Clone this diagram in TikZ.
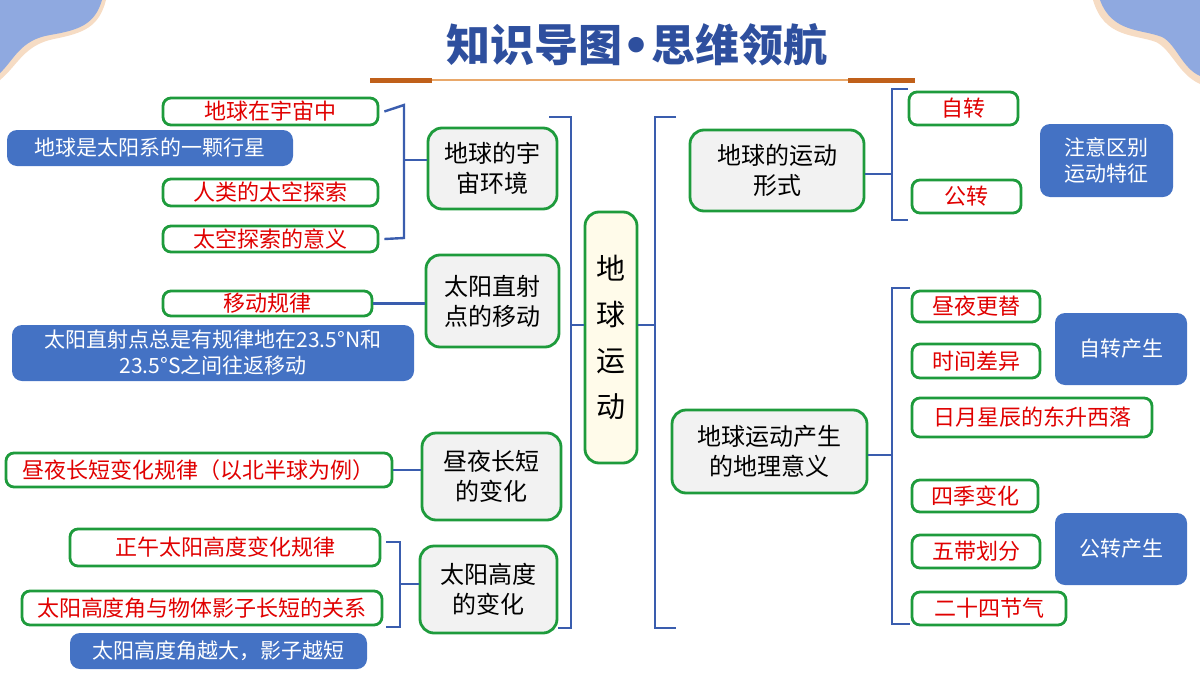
\documentclass[tikz,border=0pt]{standalone}
\usepackage{fontspec}
\setmainfont{Noto Sans CJK SC}
\newfontfamily\dv{DejaVu Sans}
\usetikzlibrary{calc}
\definecolor{gr}{HTML}{1E9B3C}
\definecolor{rd}{HTML}{E00000}
\definecolor{bf}{HTML}{4472C4}
\definecolor{bln}{HTML}{3A5DAE}
\definecolor{gy}{HTML}{F2F2F2}
\definecolor{yl}{HTML}{FFFBEA}
\definecolor{tt}{HTML}{2E4F9E}
\definecolor{cb}{HTML}{8FA9E0}
\definecolor{pc}{HTML}{F6DCC4}
\definecolor{orl}{HTML}{E9A86A}
\definecolor{ord}{HTML}{C0601A}
\newcommand\bx[7]{\node[#2, minimum width={(#5-#3)*0.5pt}, minimum height={(#6-#4)*0.5pt}] (#1) at ({(#3+#5)/2},{(#4+#6)/2}) {#7};}
\begin{document}
\begin{tikzpicture}[x=0.5pt,y=-0.5pt,
 gbox/.style={draw=gr, line width=1.4pt, rounded corners=4pt, inner sep=0pt, text=rd, font=\fontsize{11}{12}\selectfont, fill=white},
 bbox/.style={fill=bf, rounded corners=5pt, inner sep=0pt, text=white, font=\fontsize{10.5}{13}\selectfont, align=center},
 mbox/.style={draw=gr, line width=1.4pt, rounded corners=7pt, inner sep=0pt, fill=gy, font=\fontsize{12}{15}\selectfont, align=center},
 bl/.style={draw=bln, line width=1.2pt}]
\useasboundingbox (0,0) rectangle (1200,675);
% corners
\fill[pc] (0,0) -- (106,0) .. controls (99,27) and (84,33) .. (54,39) .. controls (24,45) and (18,65) .. (0,80) -- cycle;
\fill[cb] (0,0) -- (102,0) .. controls (95,24) and (80,30) .. (50,35) .. controls (20,40) and (14,60) .. (0,73) -- cycle;
\fill[pc] (1093,0) -- (1200,0) -- (1200,84) .. controls (1178,74) and (1172,50) .. (1156,42) .. controls (1134,34) and (1104,38) .. (1093,0) -- cycle;
\fill[cb] (1100,0) -- (1200,0) -- (1200,76) .. controls (1182,68) and (1176,44) .. (1162,37) .. controls (1142,29) and (1112,33) .. (1100,0) -- cycle;
% title
\node[text=tt, font=\fontsize{22}{26}\selectfont\bfseries] (title) at (637,45) {知识导图{\dv\bfseries •}思维领航};
\draw[orl, line width=1.2pt] (370,80) -- (915,80);
\draw[ord, line width=2.5pt] (370,80) -- (432,80);
\draw[ord, line width=2.5pt] (848,80) -- (915,80);
% left
\bx{a1}{gbox}{163}{98}{378}{125}{地球在宇宙中}
\bx{a2}{bbox}{7}{130}{293}{166}{地球是太阳系的一颗行星}
\bx{a3}{gbox}{163}{179}{378}{206}{人类的太空探索}
\bx{a4}{gbox}{163}{226}{378}{252}{太空探索的意义}
\bx{u1}{mbox}{428}{128}{557}{209}{地球的宇\\宙环境}
\bx{b1}{gbox}{163}{291}{372}{316}{移动规律}
\bx{b2}{bbox}{12}{325}{414}{381}{太阳直射点总是有规律地在23.5°N和\\23.5°S之间往返移动}
\bx{u2}{mbox}{426}{255}{559}{347}{太阳直射\\点的移动}
\bx{c1}{gbox}{6}{453}{392}{487}{昼夜长短变化规律（以北半球为例）}
\bx{u3}{mbox}{422}{433}{561}{520}{昼夜长短\\的变化}
\bx{d1}{gbox}{70}{529}{380}{566}{正午太阳高度变化规律}
\bx{d2}{gbox}{22}{591}{382}{625}{太阳高度角与物体影子长短的关系}
\bx{u4}{mbox}{420}{546}{557}{633}{太阳高度\\的变化}
\bx{d3}{bbox}{70}{633}{367}{669}{太阳高度角越大，影子越短}
% center
\bx{ctr}{mbox,fill=yl,font=\fontsize{14.5}{23}\selectfont}{585}{212}{637}{463}{地\\球\\运\\动}
% right
\bx{r1}{mbox}{690}{130}{864}{211}{地球的运动\\形式}
\bx{r11}{gbox}{909}{92}{1018}{125}{自转}
\bx{r12}{gbox}{912}{180}{1021}{213}{公转}
\bx{rn}{bbox}{1040}{124}{1173}{197}{注意区别\\运动特征}
\bx{r2}{mbox}{672}{410}{867}{493}{地球运动产生\\的地理意义}
\bx{s1}{gbox}{912}{291}{1040}{322}{昼夜更替}
\bx{s2}{gbox}{912}{344}{1040}{378}{时间差异}
\bx{s3}{gbox}{912}{398}{1152}{437}{日月星辰的东升西落}
\bx{sn}{bbox}{1055}{313}{1187}{385}{自转产生}
\bx{t1}{gbox}{912}{480}{1038}{512}{四季变化}
\bx{t2}{gbox}{912}{535}{1040}{568}{五带划分}
\bx{t3}{gbox}{912}{592}{1066}{625}{二十四节气}
\bx{tn}{bbox}{1055}{513}{1187}{585}{公转产生}
% connectors left
\draw[bl] ($(a1.east)+(5,0)$) -- (404,105) -- (404,238) -- ($(a4.east)+(5,0)$);
\draw[bl] (404,160) -- (u1.west|-0,160);
\draw[bl] (b1.east) -- (u2.west|-b1.east);
\draw[bl] (c1.east) -- (u3.west|-c1.east);
\draw[bl] (386,542) -- (400,542) -- (400,627) -- (386,627);
\draw[bl] (400,584) -- (u4.west|-0,584);
\draw[bl] (549,117) -- (571,117) -- (571,628) -- (u4.east|-0,628);
\draw[bl] (571,325) -- (ctr.west|-0,325);
% right connectors
\draw[bl] (ctr.east|-0,325) -- (655,325);
\draw[bl] (676,117) -- (655,117) -- (655,628) -- (676,628);
\draw[bl] (r1.east|-0,174) -- (892,174);
\draw[bl] (908,89) -- (892,89) -- (892,220) -- (908,220);
\draw[bl] (r2.east|-0,455) -- (892,455);
\draw[bl] (910,288) -- (892,288) -- (892,624) -- (910,624);
\end{tikzpicture}
\end{document}
